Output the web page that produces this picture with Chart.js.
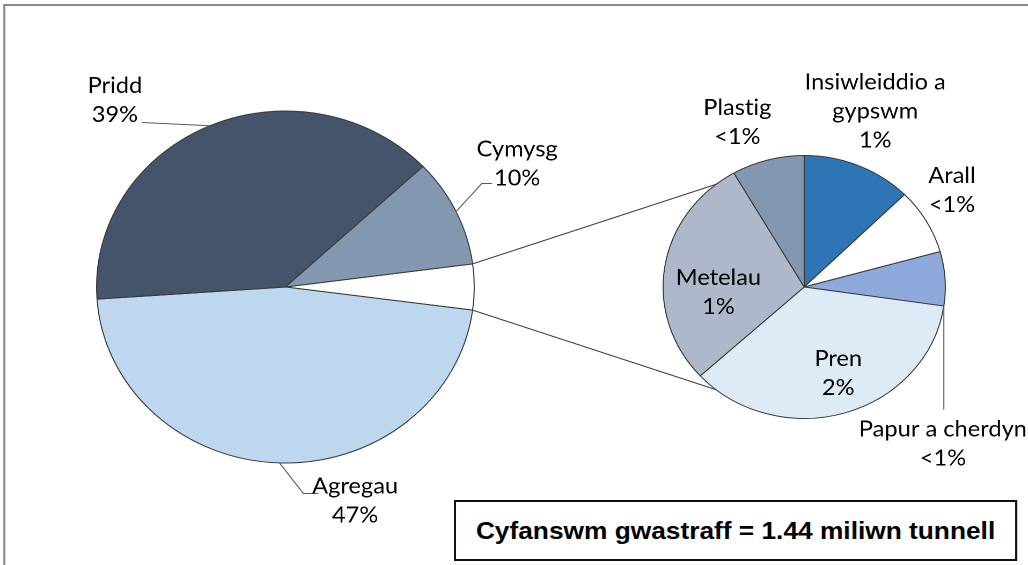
<!DOCTYPE html>
<html>
<head>
<meta charset="utf-8">
<script src="https://cdn.jsdelivr.net/npm/chart.js@4.4.1/dist/chart.umd.min.js"></script>
<style>
  html, body { margin: 0; padding: 0; background: #fff; overflow: hidden; }
  /* the reference is stretched sideways, so the whole stage is drawn narrow and scaled */
  #stage { position: relative; width: 958px; height: 565px; transform: scaleX(1.073); transform-origin: 0 0; }
  #stage canvas { position: absolute; left: 0; top: 0; }
  #frame { position: absolute; left: 3px; top: 4px; width: 1000px; height: 600px;
           border-top: 2px solid #8a8a8a; border-left: 2px solid #8a8a8a; }
  #total { position: absolute; left: 423px; top: 500px; width: 525px; height: 61px; box-sizing: border-box;
           border: 2px solid #111; background: #fff; display: flex; align-items: center; justify-content: center;
           font: bold 24.5px "Liberation Sans", Arial, sans-serif; color: #000; }
</style>
</head>
<body>
<div id="stage">
  <div id="frame"></div>
  <canvas id="mainPie" width="958" height="565"></canvas>
  <canvas id="subPie" width="958" height="565"></canvas>
  <div id="total">Cyfanswm gwastraff = 1.44 miliwn tunnell</div>
</div>
<script>
(function() {
    'use strict';

    // Main pie: share of total waste (%), the first slice is split out into the small pie
    const mainLabels = ['Arall', 'Agregau', 'Pridd', 'Cymysg'];
    const mainValues = [4.2, 46.8, 39.1, 9.9];
    const mainPct = ['', '47%', '39%', '10%'];

    // Small pie: breakdown of the split-out slice (% of total waste)
    const subLabels = ['Insiwleiddio a\ngypswm', 'Arall', 'Papur a cherdyn', 'Pren', 'Metelau', 'Plastig'];
    const subValues = [0.53, 0.34, 0.28, 1.51, 1.20, 0.35];
    const subPct = ['1%', '<1%', '<1%', '2%', '1%', '<1%'];

    const mainColors = ['#ffffff', '#BDD7EE', '#44546A', '#8497B0'];
    const subColors = ['#2E75B6', '#ffffff', '#8EA9DB', '#DDEBF7', '#ADB9CA', '#8497B0'];

    const LABEL_FONT = '22px Lato, "Open Sans", sans-serif';
    const LINE_H = 29;

    // Label placement, in units of the pie radius from its centre
    const mainLayout = [
        null,
        { at: [0.369, 1.214], leader: [[0.095, 1.173], [0.174, 1.173]] },
        { at: [-0.903, -1.061], leader: [[-0.761, -0.935]] },
        { at: [1.227, -0.698], leader: [[1.040, -0.588], [1.093, -0.588]] }
    ];
    const subLayout = [
        { at: [0.503, -1.336] },
        { at: [1.047, -0.733] },
        { at: [0.983, 1.192], from: 'end', leader: [[null, 0.932]] },
        { at: [0.241, 0.657] },
        { at: [-0.608, 0.042] },
        { at: [-0.474, -1.253] }
    ];

    function sum(arr) {
        return arr.reduce((a, b) => a + b, 0);
    }

    function labelPlugin(names, pcts, layout) {
        return {
            id: 'sliceLabels',
            afterDatasetsDraw(chart) {
                const ctx = chart.ctx;
                const arcs = chart.getDatasetMeta(0).data;
                ctx.save();
                ctx.font = LABEL_FONT;
                // tiny spacing keeps Lato from joining "ti" into a ligature
                if ('letterSpacing' in ctx) ctx.letterSpacing = '0.01px';
                ctx.fillStyle = '#000';
                ctx.textAlign = 'center';
                ctx.textBaseline = 'middle';
                ctx.strokeStyle = '#5a5a5a';
                ctx.lineWidth = 1;
                arcs.forEach((arc, i) => {
                    const pos = layout[i];
                    if (!pos) return;
                    const r = arc.outerRadius;
                    if (pos.leader) {
                        const a = pos.from === 'end' ? arc.endAngle : (arc.startAngle + arc.endAngle) / 2;
                        let px = arc.x + r * Math.cos(a);
                        let py = arc.y + r * Math.sin(a);
                        ctx.beginPath();
                        ctx.moveTo(px, py);
                        pos.leader.forEach(p => {
                            px = p[0] === null ? px : arc.x + p[0] * r;
                            py = p[1] === null ? py : arc.y + p[1] * r;
                            ctx.lineTo(px, py);
                        });
                        ctx.stroke();
                    }
                    const lines = names[i].split('\n').concat([pcts[i]]);
                    const tx = arc.x + pos.at[0] * r;
                    const ty = arc.y + pos.at[1] * r;
                    lines.forEach((line, k) => {
                        ctx.fillText(line, tx, ty + (k - (lines.length - 1) / 2) * LINE_H);
                    });
                });
                ctx.restore();
            }
        };
    }

    // Small pie first, so the main pie can join its split slice to it
    const subChart = new Chart(document.getElementById('subPie'), {
        type: 'pie',
        data: {
            labels: subLabels,
            datasets: [{
                data: subValues,
                backgroundColor: subColors,
                borderColor: '#3a3a3a',
                borderWidth: 1,
                radius: 131.5,
                rotation: 0
            }]
        },
        options: {
            responsive: false,
            devicePixelRatio: 2,
            animation: false,
            layout: { padding: { left: 541, right: 0, top: 9, bottom: 0 } },
            plugins: { legend: { display: false }, tooltip: { enabled: false } }
        },
        plugins: [labelPlugin(subLabels, subPct, subLayout)]
    });

    const connectors = {
        id: 'connectors',
        afterDatasetsDraw(chart) {
            const arc = chart.getDatasetMeta(0).data[0];
            const sub = subChart.getDatasetMeta(0).data[0];
            const ctx = chart.ctx;
            ctx.save();
            ctx.strokeStyle = '#404040';
            ctx.lineWidth = 1;
            ctx.beginPath();
            ctx.moveTo(arc.x + arc.outerRadius * Math.cos(arc.startAngle), arc.y + arc.outerRadius * Math.sin(arc.startAngle));
            ctx.lineTo(sub.x, sub.y - sub.outerRadius);
            ctx.moveTo(arc.x + arc.outerRadius * Math.cos(arc.endAngle), arc.y + arc.outerRadius * Math.sin(arc.endAngle));
            ctx.lineTo(sub.x, sub.y + sub.outerRadius);
            ctx.stroke();
            ctx.restore();
        }
    };

    new Chart(document.getElementById('mainPie'), {
        type: 'pie',
        data: {
            labels: mainLabels,
            datasets: [{
                data: mainValues,
                backgroundColor: mainColors,
                borderColor: '#3a3a3a',
                borderWidth: 1,
                radius: 176,
                // centre the split slice on the horizontal
                rotation: 90 - mainValues[0] / sum(mainValues) * 180
            }]
        },
        options: {
            responsive: false,
            devicePixelRatio: 2,
            animation: false,
            layout: { padding: { left: 0, right: 426, top: 9, bottom: 0 } },
            plugins: { legend: { display: false }, tooltip: { enabled: false } }
        },
        plugins: [connectors, labelPlugin(mainLabels, mainPct, mainLayout)]
    });
})();
</script>
</body>
</html>
